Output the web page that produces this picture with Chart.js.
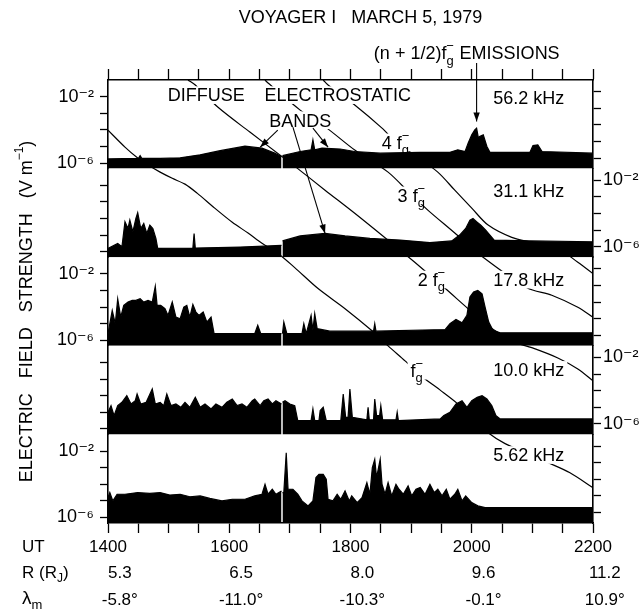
<!DOCTYPE html>
<html>
<head>
<meta charset="utf-8">
<script src="https://cdn.jsdelivr.net/npm/chart.js@4.4.1/dist/chart.umd.min.js"></script>
<style>
  html, body { margin: 0; padding: 0; background: #fff; }
  canvas { display: block; }
</style>
</head>
<body>
<canvas id="voyagerChart" width="642" height="612"></canvas>
<script>
// Voyager 1, 5 March 1979 -- wave electric field in five channels.
// Time in decimal hours UT, field strength as log10(V/m), null = data gap.

const time56 = [14.0, 14.5, 14.53, 14.56, 14.86, 15.19, 15.52, 15.85, 16.26, 16.54, 16.75, 16.862, 16.87, 16.878, 17.17, 17.35, 17.38, 17.41, 17.53, 17.83, 18.07, 18.49, 19.15, 19.64, 19.77, 19.89, 19.94, 20.0, 20.05, 20.08, 20.11, 20.13, 20.19, 20.25, 20.3, 20.96, 21.01, 21.09, 21.16, 22.0];
const field56 = [-5.75, -5.72, -5.55, -5.72, -5.72, -5.68, -5.5, -5.25, -4.98, -5.1, -5.4, -5.62, null, -5.55, -5.3, -5.2, -4.6, -5.2, -5.1, -5.15, -5.3, -5.4, -5.35, -5.35, -5.2, -5.3, -4.8, -4.3, -4.0, -3.9, -4.5, -4.4, -4.3, -5.0, -5.35, -5.35, -4.95, -4.9, -5.3, -5.4];

const time31 = [14.0, 14.16, 14.23, 14.28, 14.33, 14.36, 14.41, 14.46, 14.49, 14.54, 14.59, 14.64, 14.69, 14.74, 14.79, 14.82, 15.40, 15.42, 15.44, 16.18, 16.862, 16.87, 16.878, 17.17, 17.58, 17.91, 18.32, 18.82, 19.31, 19.67, 19.8, 19.9, 19.97, 20.02, 20.08, 20.15, 20.23, 20.3, 20.37, 20.96, 22.0];
const field31 = [-5.8, -5.5, -5.7, -4.2, -4.6, -4.1, -4.8, -4.0, -3.65, -4.6, -4.3, -4.9, -4.4, -4.6, -5.2, -5.8, -5.78, -4.9, -5.78, -5.72, -5.62, null, -5.35, -5.05, -4.9, -5.05, -5.2, -5.3, -5.45, -5.35, -5.0, -4.6, -4.1, -4.0, -4.2, -4.4, -4.7, -5.0, -5.3, -5.35, -5.4];

const time18 = [14.0, 14.07, 14.12, 14.16, 14.21, 14.26, 14.33, 14.4, 14.46, 14.53, 14.59, 14.66, 14.73, 14.78, 14.81, 14.87, 14.94, 14.99, 15.06, 15.12, 15.19, 15.25, 15.3, 15.35, 15.4, 15.45, 15.5, 15.57, 15.63, 15.7, 15.75, 16.42, 16.47, 16.52, 16.862, 16.87, 16.878, 16.9, 16.95, 17.2, 17.23, 17.27, 17.35, 17.38, 17.41, 17.45, 17.66, 18.38, 18.4, 18.42, 19.56, 19.64, 19.74, 19.84, 19.92, 19.97, 20.03, 20.1, 20.17, 20.22, 20.28, 20.35, 20.47, 22.0];
const field18 = [-5.6, -4.2, -5.0, -3.5, -4.6, -3.9, -3.7, -3.6, -3.6, -3.5, -3.7, -3.6, -3.7, -2.75, -3.9, -3.9, -4.1, -4.5, -3.7, -4.6, -4.7, -4.0, -3.9, -4.6, -3.85, -4.3, -4.5, -4.3, -4.9, -4.6, -5.6, -5.6, -5.1, -5.6, -5.6, null, -5.6, -4.9, -5.6, -5.6, -5.0, -5.6, -4.5, -5.4, -4.4, -5.3, -5.45, -5.45, -5.0, -5.45, -5.35, -5.0, -4.75, -4.95, -4.5, -3.4, -3.1, -3.0, -3.2, -4.0, -4.9, -5.4, -5.55, -5.55];

const time10 = [14.0, 14.05, 14.1, 14.16, 14.23, 14.31, 14.38, 14.45, 14.48, 14.54, 14.63, 14.73, 14.78, 14.86, 14.92, 14.97, 15.04, 15.12, 15.2, 15.27, 15.35, 15.44, 15.52, 15.6, 15.7, 15.78, 15.88, 15.96, 16.05, 16.13, 16.21, 16.29, 16.38, 16.42, 16.51, 16.57, 16.64, 16.71, 16.77, 16.862, 16.87, 16.878, 16.92, 17.0, 17.08, 17.13, 17.35, 17.38, 17.41, 17.48, 17.5, 17.55, 17.6, 17.84, 17.88, 17.92, 17.96, 17.99, 18.03, 18.27, 18.29, 18.31, 18.38, 18.4, 18.43, 18.48, 18.5, 18.53, 18.75, 18.77, 18.79, 19.48, 19.54, 19.64, 19.74, 19.84, 19.92, 20.0, 20.09, 20.17, 20.25, 20.33, 20.4, 20.47, 22.0];
const field10 = [-5.0, -4.6, -5.2, -4.6, -4.4, -4.0, -4.5, -4.3, -3.9, -4.5, -4.4, -3.6, -4.5, -4.4, -4.6, -3.9, -4.6, -4.5, -4.7, -4.4, -4.7, -4.1, -4.7, -4.5, -4.8, -4.5, -4.7, -4.4, -4.2, -4.6, -4.5, -4.7, -4.3, -4.2, -4.6, -4.3, -4.2, -4.5, -4.3, -4.5, null, -4.4, -4.3, -4.5, -4.6, -5.5, -5.5, -4.8, -5.5, -5.5, -4.9, -4.7, -5.5, -5.5, -3.9, -5.3, -5.3, -3.6, -5.3, -5.45, -4.7, -5.45, -5.45, -4.2, -5.2, -5.2, -4.6, -5.45, -5.45, -5.0, -5.5, -5.4, -5.2, -5.0, -4.5, -4.3, -4.7, -4.3, -4.1, -4.0, -4.2, -4.6, -5.2, -5.4, -5.4];

const time5 = [14.0, 14.03, 14.08, 14.15, 14.28, 14.49, 14.69, 14.86, 15.02, 15.19, 15.35, 15.52, 15.68, 15.88, 16.05, 16.26, 16.42, 16.54, 16.59, 16.64, 16.71, 16.77, 16.862, 16.87, 16.878, 16.9, 16.94, 16.97, 17.05, 17.13, 17.2, 17.3, 17.38, 17.43, 17.48, 17.55, 17.6, 17.63, 17.71, 17.78, 17.84, 17.91, 17.98, 18.02, 18.11, 18.19, 18.27, 18.32, 18.36, 18.4, 18.43, 18.49, 18.52, 18.57, 18.62, 18.68, 18.75, 18.8, 18.87, 18.95, 19.01, 19.08, 19.15, 19.23, 19.31, 19.38, 19.44, 19.51, 19.58, 19.64, 19.72, 19.77, 19.84, 19.9, 20.0, 20.1, 20.22, 22.0];
const field5 = [-4.8, -4.5, -5.0, -4.6, -4.6, -4.5, -4.55, -4.5, -4.65, -4.6, -4.75, -4.7, -4.85, -5.0, -4.9, -4.9, -4.7, -4.6, -4.0, -4.6, -4.3, -4.6, -4.4, null, -4.5, -4.5, -2.1, -4.3, -4.3, -4.6, -5.0, -5.3, -5.0, -3.6, -3.4, -3.4, -3.7, -4.9, -5.0, -4.6, -4.9, -4.4, -5.0, -4.7, -5.1, -4.8, -3.9, -4.6, -3.0, -2.5, -3.6, -2.5, -4.0, -4.6, -3.9, -4.7, -4.0, -4.3, -4.6, -4.1, -4.7, -4.3, -4.2, -4.6, -4.0, -4.5, -4.3, -4.7, -4.3, -4.9, -4.6, -4.3, -5.0, -4.7, -5.1, -5.3, -5.4, -5.4];

// electron gyrofrequency harmonics, kHz
const fgTime = [14.0, 14.28, 14.49, 14.66, 14.86, 15.06, 15.27, 15.47, 15.76, 16.05, 16.31, 16.54, 16.8, 17.08, 17.46, 17.91, 18.35, 18.62, 18.9, 19.2, 19.48, 19.77, 20.05, 20.27, 20.55, 21.26, 21.62, 22.0];
const fgFreq = [69.9, 62.6, 58.3, 55.7, 53.2, 51.1, 49.2, 46.4, 42.1, 38.4, 35.8, 33.5, 31.4, 28.6, 25.0, 21.9, 19.0, 17.2, 15.6, 14.0, 12.9, 11.8, 10.6, 9.78, 9.11, 8.05, 7.54, 6.84];
const fg2Time = [15.32, 15.44, 15.81, 16.34, 16.84, 17.12, 17.58, 18.07, 18.68, 19.06, 19.56, 19.94, 20.3, 20.71, 20.99, 21.42, 21.75, 22.0];
const fg2Freq = [96.8, 93.7, 81.2, 69.0, 59.4, 54.6, 47.3, 40.7, 33.5, 29.6, 25.0, 21.9, 19.4, 17.6, 17.0, 15.9, 14.8, 13.7];
const fg3Time = [16.59, 16.64, 17.17, 17.61, 18.07, 18.62, 19.01, 19.28, 19.72, 20.1, 20.91, 21.32, 21.75, 22.0];
const fg3Freq = [96.8, 94.9, 79.6, 70.8, 61.4, 53.2, 45.8, 41.5, 35.8, 31.4, 25.1, 23.9, 22.1, 20.7];
const fg4Time = [17.55, 17.63, 18.07, 18.52, 18.75, 19.01, 19.44, 19.72, 20.0, 20.27, 20.66, 20.99, 21.42, 21.75, 22.0];
const fg4Freq = [96.8, 93.7, 82.3, 70.8, 64.6, 60.2, 53.2, 47.3, 42.1, 37.7, 34.8, 33.7, 32.4, 29.6, 27.5];

// axes
const utTicks = [14, 14.5, 15, 15.5, 16, 16.5, 17, 17.5, 18, 18.5, 19, 19.5, 20, 20.5, 21, 21.5, 22];
const utLabelHours = [14, 16, 18, 20, 22];
const utLabels = ['1400', '1600', '1800', '2000', '2200'];
const radiusLabels = ['5.3', '6.5', '8.0', '9.6', '11.2'];
const latitudeLabels = ['-5.8\u00b0', '-11.0\u00b0', '-10.3\u00b0', '-0.1\u00b0', '10.9\u00b0'];
const fieldTicks = [-6, -5, -4, -3, -2];
const fieldLabelValues = [-6, -2];
const fieldLabels = ['10\u207b\u2076', '10\u207b\u00b2'];
const channelNames = ['56.2 kHz', '31.1 kHz', '17.8 kHz', '10.0 kHz', '5.62 kHz'];

const FONT = "'Liberation Sans', 'DejaVu Sans', sans-serif";
const FIELD_MIN = -6.33, FIELD_MAX = -1;
const RIGHT_SHIFT = 0.3;   // the right-hand scale sits a little higher on the original
const FREQ_MIN = 5.44, FREQ_MAX = 96.8;

const panelIds = ['p56', 'p31', 'p18', 'p10', 'p5'];
const panelTimes = [time56, time31, time18, time10, time5];
const panelFields = [field56, field31, field18, field10, field5];

function pairs(xs, ys) {
  return xs.map((x, i) => ({ x: x, y: ys[i] }));
}

function fieldAxis(side, labelled) {
  const shift = side === 'right' ? RIGHT_SHIFT : 0;
  return {
    type: 'linear',
    position: side,
    stack: side,
    stackWeight: 1,
    min: FIELD_MIN - shift,
    max: FIELD_MAX - shift,
    offset: false,
    afterBuildTicks: s => { s.ticks = fieldTicks.map(v => ({ value: v })); },
    afterFit: s => { s.width = side === 'left' ? 100 : 49; },
    grid: { drawOnChartArea: false, drawTicks: true, tickLength: 8, tickWidth: 1.3, tickColor: '#000' },
    border: { display: true, color: '#000', width: 1.6 },
    ticks: {
      autoSkip: false,
      color: '#000',
      padding: side === 'left' ? 6 : 2,
      font: { family: FONT, size: 18 },
      callback: v => {
        const k = fieldLabelValues.indexOf(v);
        return labelled && k >= 0 ? fieldLabels[k] : '';
      }
    }
  };
}

const scales = {
  x: {
    type: 'linear',
    position: 'bottom',
    min: 14,
    max: 22,
    afterBuildTicks: s => { s.ticks = utTicks.map(v => ({ value: v })); },
    afterFit: s => { s.height = 89; },
    grid: { drawOnChartArea: false, drawTicks: true, tickLength: 10, tickWidth: 1.3, tickColor: '#000' },
    border: { display: true, color: '#000', width: 1.6 },
    ticks: {
      autoSkip: false,
      maxRotation: 0,
      color: '#000',
      padding: 1,
      font: { family: FONT, size: 17, lineHeight: 1.55 },
      callback: v => {
        const k = utLabelHours.indexOf(v);
        if (k < 0) return '';
        return [utLabels[k], '     ' + radiusLabels[k], '     ' + latitudeLabels[k]];
      }
    }
  },
  xTop: {
    type: 'linear',
    position: 'top',
    min: 14,
    max: 22,
    afterBuildTicks: s => { s.ticks = utTicks.map(v => ({ value: v })); },
    afterFit: s => { s.height = 80; },
    grid: { drawOnChartArea: false, drawTicks: true, tickLength: 11, tickWidth: 1.3, tickColor: '#000' },
    border: { display: true, color: '#000', width: 1.6 },
    ticks: { autoSkip: false, callback: () => '' }
  }
};
// stacked boxes on the left are laid out last-first, so list them bottom-up
for (let i = panelIds.length - 1; i >= 0; i--) scales[panelIds[i]] = fieldAxis('left', i % 2 === 0);
for (let i = 0; i < panelIds.length; i++) scales['r' + panelIds[i]] = fieldAxis('right', i % 2 === 1);
scales.freq = { type: 'logarithmic', display: false, min: FREQ_MIN, max: FREQ_MAX };

const datasets = panelIds.map((id, i) => ({
  label: channelNames[i],
  data: pairs(panelTimes[i], panelFields[i]),
  yAxisID: id,
  fill: 'start',
  backgroundColor: '#000',
  borderColor: '#000',
  borderWidth: 1.2,
  pointRadius: 0,
  tension: 0
}));
[[fgTime, fgFreq], [fg2Time, fg2Freq], [fg3Time, fg3Freq], [fg4Time, fg4Freq]].forEach((c, n) => {
  datasets.push({
    label: (n + 1) + ' fg',
    data: pairs(c[0], c[1]),
    yAxisID: 'freq',
    fill: false,
    borderColor: '#000',
    borderWidth: 1.2,
    pointRadius: 0,
    tension: 0.3
  });
});

/* ---------------- TEXT HELPERS ---------------- */

function setFont(ctx, size) {
  ctx.font = size + 'px ' + FONT;
}

function runWidth(ctx, pre, fg, post, size) {
  setFont(ctx, size);
  let w = ctx.measureText(pre + post).width;
  if (fg) {
    w += ctx.measureText('f').width;
    setFont(ctx, size * 0.72);
    w += ctx.measureText('g').width + 1;
  }
  return w;
}

// text with an optional f_g^- glyph group, centred on (cx, cy)
function drawLabel(ctx, pre, fg, post, cx, cy, size, knockout) {
  const w = runWidth(ctx, pre, fg, post, size);
  let x = cx - w / 2;
  const base = cy + size * 0.36;
  if (knockout) {
    ctx.fillStyle = '#fff';
    ctx.fillRect(x - 3, cy - size * 0.48, w + 6, size * 0.98);
  }
  ctx.fillStyle = '#000';
  ctx.textAlign = 'left';
  ctx.textBaseline = 'alphabetic';
  setFont(ctx, size);
  ctx.fillText(pre, x, base);
  x += ctx.measureText(pre).width;
  if (fg) {
    ctx.fillText('f', x, base);
    x += ctx.measureText('f').width;
    setFont(ctx, size * 0.72);
    const wg = ctx.measureText('g').width;
    ctx.fillText('g', x, base + size * 0.28);
    ctx.fillText('\u2212', x + wg / 2 - ctx.measureText('\u2212').width / 2, base - size * 0.5);
    x += wg + 1;
    setFont(ctx, size);
  }
  ctx.fillText(post, x, base);
}

function arrow(ctx, x1, y1, x2, y2) {
  ctx.beginPath();
  ctx.moveTo(x1, y1);
  ctx.lineTo(x2, y2);
  ctx.stroke();
  const a = Math.atan2(y2 - y1, x2 - x1), L = 9, W = 3.2;
  ctx.beginPath();
  ctx.moveTo(x2, y2);
  ctx.lineTo(x2 - L * Math.cos(a) + W * Math.sin(a), y2 - L * Math.sin(a) - W * Math.cos(a));
  ctx.lineTo(x2 - L * Math.cos(a) - W * Math.sin(a), y2 - L * Math.sin(a) + W * Math.cos(a));
  ctx.closePath();
  ctx.fill();
}

/* ---------------- ANNOTATIONS ---------------- */

const annotations = {
  id: 'annotations',
  afterDatasetsDraw(chart) {
    const { ctx, scales: s } = chart;
    const X = t => s.x.getPixelForValue(t);
    const P = (id, v) => s[id].getPixelForValue(v);
    const F = f => s.freq.getPixelForValue(f);
    ctx.save();
    ctx.strokeStyle = '#000';
    ctx.fillStyle = '#000';
    ctx.lineWidth = 1.1;

    drawLabel(ctx, 'DIFFUSE', false, '', X(15.62), P('p56', -1.9), 18, true);
    drawLabel(ctx, 'ELECTROSTATIC', false, '', X(17.79), P('p56', -1.9), 18, true);
    drawLabel(ctx, 'BANDS', false, '', X(17.17), P('p56', -3.41), 18, true);

    drawLabel(ctx, '4 ', true, '', X(18.75), F(64.6), 18, true);
    drawLabel(ctx, '3 ', true, '', X(19.01), F(45.8), 18, true);
    drawLabel(ctx, '2 ', true, '', X(19.34), F(26.5), 18, true);
    drawLabel(ctx, '', true, '', X(19.1), F(14.65), 18, true);

    const kHzLevels = [-2.03, -2.3, -2.34, -2.44, -2.23];
    panelIds.forEach((id, i) => {
      drawLabel(ctx, channelNames[i], false, '', X(20.94), P(id, kHzLevels[i]), 18, true);
    });

    // pointers from BANDS
    arrow(ctx, X(16.80), P('p56', -4.02), X(16.51), P('p56', -5.04));
    arrow(ctx, X(17.05), P('p56', -3.83), X(17.58), P('p31', -4.9));
    arrow(ctx, X(17.38), P('p56', -3.9), X(17.63), P('p56', -5.04));

    // (n+1/2) fg emissions
    const top = chart.chartArea.top;
    drawLabel(ctx, '(n + 1/2)', true, ' EMISSIONS', X(20.0) - 5, top - 27, 18, false);
    arrow(ctx, X(20.08), top - 17, X(20.08), P('p56', -3.5));
    ctx.restore();
  },
  afterDraw(chart) {
    const { ctx, chartArea: a } = chart;
    ctx.save();
    ctx.fillStyle = '#000';
    ctx.textBaseline = 'middle';

    // title
    setFont(ctx, 18);
    ctx.textAlign = 'center';
    ctx.fillText('VOYAGER I   MARCH 5, 1979', (a.left + a.right) / 2 + 10, 18);

    // vertical axis title
    ctx.save();
    ctx.translate(27, (a.top + a.bottom) / 2 + 10);
    ctx.rotate(-Math.PI / 2);
    const main = 'ELECTRIC   FIELD   STRENGTH   (V m';
    setFont(ctx, 18);
    const wMain = ctx.measureText(main).width;
    const wClose = ctx.measureText(')').width;
    setFont(ctx, 12);
    const wSup = ctx.measureText('\u22121').width;
    let x = -(wMain + wSup + wClose) / 2;
    ctx.textAlign = 'left';
    setFont(ctx, 18);
    ctx.fillText(main, x, 0);
    x += wMain;
    setFont(ctx, 12);
    ctx.fillText('\u22121', x, -7);
    x += wSup;
    setFont(ctx, 18);
    ctx.fillText(')', x, 0);
    ctx.restore();

    // row headers of the time axis
    ctx.textAlign = 'left';
    const y0 = a.bottom + 24;
    setFont(ctx, 17);
    ctx.fillText('UT', 22, y0);
    ctx.fillText('R (R', 22, y0 + 26.5);
    let w = ctx.measureText('R (R').width;
    setFont(ctx, 12);
    ctx.fillText('J', 22 + w, y0 + 32);
    w += ctx.measureText('J').width;
    setFont(ctx, 17);
    ctx.fillText(')', 22 + w, y0 + 26.5);
    setFont(ctx, 19);
    ctx.fillText('\u03bb', 22, y0 + 52);
    const wl = ctx.measureText('\u03bb').width;
    setFont(ctx, 13);
    ctx.fillText('m', 22 + wl, y0 + 58);
    ctx.restore();
  }
};

Chart.defaults.color = '#000';
Chart.defaults.font.family = FONT;

new Chart(document.getElementById('voyagerChart').getContext('2d'), {
  type: 'line',
  data: { datasets: datasets },
  options: {
    responsive: false,
    animation: false,
    events: [],
    layout: { padding: { left: 8, right: 0, top: 0, bottom: 0 } },
    plugins: { legend: { display: false }, tooltip: { enabled: false } },
    scales: scales
  },
  plugins: [annotations]
});
</script>
</body>
</html>
